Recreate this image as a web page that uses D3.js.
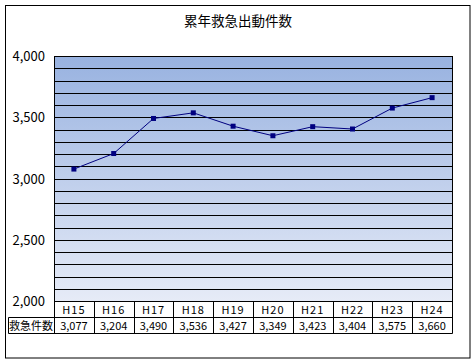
<!DOCTYPE html>
<html>
<head>
<meta charset="utf-8">
<script src="https://cdn.jsdelivr.net/npm/d3@7"></script>
<style>
  body { margin: 0; background: #fff; }
  text { font-family: "Noto Sans CJK JP", "DejaVu Sans", sans-serif; fill: #000; }
</style>
</head>
<body>
<div id="chart"></div>
<script>
const title = "累年救急出動件数";
const years = ["H15", "H16", "H17", "H18", "H19", "H20", "H21", "H22", "H23", "H24"];
const counts = [3077, 3204, 3490, 3536, 3427, 3349, 3423, 3404, 3575, 3660];
const rowLabel = "救急件数";
const yTicks = [2000, 2500, 3000, 3500, 4000];
const yDomain = [2000, 4000];
const gridStep = 100;

const W = 474, H = 363;
const plot = { left: 54, right: 452, top: 56, bottom: 301 };
const rowH = 16;

const svg = d3.select("#chart").append("svg")
    .attr("width", W)
    .attr("height", H);

// outer frame
svg.append("rect")
    .attr("x", 5.5).attr("y", 5.5)
    .attr("width", 464.5).attr("height", 352.5)
    .attr("fill", "#fff")
    .attr("stroke", "#000")
    .attr("stroke-width", 1);

svg.append("text")
    .attr("x", 238).attr("y", 26)
    .attr("text-anchor", "middle")
    .style("font-size", "13.5px")
    .text(title);

const grad = svg.append("defs").append("linearGradient")
    .attr("id", "bg").attr("x1", 0).attr("y1", 0).attr("x2", 0).attr("y2", 1);
grad.append("stop").attr("offset", "0%").attr("stop-color", "#98b2e0");
grad.append("stop").attr("offset", "100%").attr("stop-color", "#e6ebf7");

const x = d3.scaleBand().domain(years).range([plot.left, plot.right]);
const y = d3.scaleLinear().domain(yDomain).range([plot.bottom, plot.top]);

svg.append("rect")
    .attr("x", plot.left).attr("y", plot.top)
    .attr("width", plot.right - plot.left).attr("height", plot.bottom - plot.top)
    .attr("fill", "url(#bg)");

// horizontal grid lines
svg.append("g")
    .selectAll("line")
    .data(d3.range(yDomain[0], yDomain[1] + 1, gridStep))
    .join("line")
    .attr("x1", plot.left).attr("x2", plot.right)
    .attr("y1", d => Math.round(y(d)) + 0.5)
    .attr("y2", d => Math.round(y(d)) + 0.5)
    .attr("stroke", "#000")
    .attr("stroke-width", 1);

// y axis labels
svg.append("g")
    .selectAll("text")
    .data(yTicks)
    .join("text")
    .attr("x", 45)
    .attr("y", d => y(d) + 5)
    .attr("text-anchor", "end")
    .style("font-size", "13px")
    .text(d3.format(","));

// data table
const tableTop = Math.round(plot.bottom) + 0.5;
const table = svg.append("g");
table.append("line")
    .attr("x1", plot.left + 0.5).attr("x2", plot.left + 0.5)
    .attr("y1", plot.top).attr("y2", tableTop + rowH * 2)
    .attr("stroke", "#000");
table.append("line")
    .attr("x1", plot.right + 0.5).attr("x2", plot.right + 0.5)
    .attr("y1", plot.top).attr("y2", tableTop + rowH * 2)
    .attr("stroke", "#000");
table.append("line")
    .attr("x1", 8.5).attr("x2", plot.right + 0.5)
    .attr("y1", tableTop + rowH).attr("y2", tableTop + rowH)
    .attr("stroke", "#000");
table.append("line")
    .attr("x1", 8.5).attr("x2", plot.right + 0.5)
    .attr("y1", tableTop + rowH * 2).attr("y2", tableTop + rowH * 2)
    .attr("stroke", "#000");
table.append("line")
    .attr("x1", 8.5).attr("x2", 8.5)
    .attr("y1", tableTop + rowH).attr("y2", tableTop + rowH * 2)
    .attr("stroke", "#000");
table.selectAll(".sep")
    .data(years.slice(1))
    .join("line")
    .attr("class", "sep")
    .attr("x1", d => Math.round(x(d)) + 0.5).attr("x2", d => Math.round(x(d)) + 0.5)
    .attr("y1", tableTop).attr("y2", tableTop + rowH * 2)
    .attr("stroke", "#000");
table.selectAll(".yr")
    .data(years)
    .join("text")
    .attr("class", "yr")
    .attr("x", d => x(d) + x.bandwidth() / 2)
    .attr("y", tableTop + 12)
    .attr("text-anchor", "middle")
    .style("font-size", "11px")
    .style("letter-spacing", "1px")
    .text(d => d);
table.selectAll(".val")
    .data(counts)
    .join("text")
    .attr("class", "val")
    .attr("x", (d, i) => x(years[i]) + x.bandwidth() / 2)
    .attr("y", tableTop + rowH + 12)
    .attr("text-anchor", "middle")
    .style("font-size", "11px")
    .text(d3.format(","));
table.append("text")
    .attr("x", 31).attr("y", tableTop + rowH + 12)
    .attr("text-anchor", "middle")
    .style("font-size", "11px")
    .text(rowLabel);

// line + markers
const cx = (d, i) => x(years[i]) + x.bandwidth() / 2;
const line = d3.line().x(cx).y(d => y(d));
svg.append("path")
    .datum(counts)
    .attr("d", line)
    .attr("fill", "none")
    .attr("stroke", "#000080")
    .attr("stroke-width", 1);
svg.append("g")
    .selectAll("rect")
    .data(counts)
    .join("rect")
    .attr("x", (d, i) => cx(d, i) - 2.5)
    .attr("y", d => y(d) - 2.5)
    .attr("width", 5).attr("height", 5)
    .attr("fill", "#000080");
</script>
</body>
</html>
